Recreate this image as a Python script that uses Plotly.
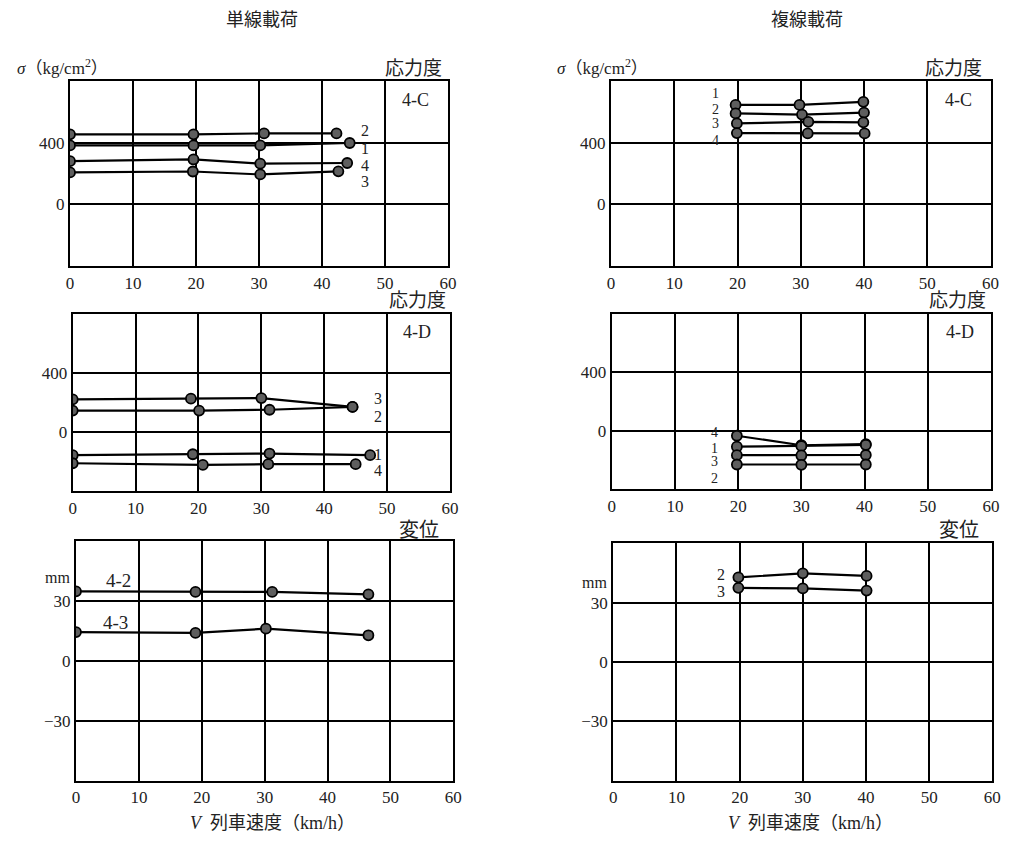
import plotly.graph_objects as go

PAGE_OFF = 8  # default body margin of the html page
W, H = 1012 - 2 * PAGE_OFF, 841 - 2 * PAGE_OFF
FONT = "Liberation Serif, Noto Sans CJK JP, serif"

# ---------------- data ----------------
x_ticks = [0, 10, 20, 30, 40, 50, 60]
stress_ticks = [0, 400]
disp_ticks = [-30, 0, 30]
disp_ticktext = ["\u221230", "0", "30"]

# single-line loading, stress 4-C
s4c_x1 = [0, 19.6, 30.2, 44.4]
s4c_y1 = [382, 382, 382, 398]
s4c_x2 = [0, 19.6, 30.8, 42.3]
s4c_y2 = [454, 454, 460, 460]
s4c_x3 = [0, 19.5, 30.2, 42.6]
s4c_y3 = [207, 213, 194, 214]
s4c_x4 = [0, 19.6, 30.2, 44.0]
s4c_y4 = [280, 291, 264, 268]

# double-line loading, stress 4-C
d4c_x1 = [19.7, 29.8, 39.9]
d4c_y1 = [645, 645, 665]
d4c_x2 = [19.7, 30.2, 40.0]
d4c_y2 = [590, 582, 595]
d4c_x3 = [19.9, 31.2, 39.9]
d4c_y3 = [525, 535, 532]
d4c_x4 = [19.9, 31.1, 40.1]
d4c_y4 = [462, 460, 460]

# single-line loading, stress 4-D
s4d_x1 = [0, 19.1, 31.3, 47.3]
s4d_y1 = [-157, -151, -146, -157]
s4d_x2 = [0, 20.1, 31.3, 44.5]
s4d_y2 = [145, 145, 151, 170]
s4d_x3 = [0, 18.8, 30.0, 44.5]
s4d_y3 = [221, 226, 230, 170]
s4d_x4 = [0, 20.7, 31.1, 45.0]
s4d_y4 = [-212, -223, -218, -218]

# double-line loading, stress 4-D
d4d_x = [19.8, 30.0, 40.2]
d4d_y1 = [-110, -105, -98]
d4d_y2 = [-232, -234, -232]
d4d_y3 = [-168, -170, -167]
d4d_y4 = [-35, -100, -92]

# single-line loading, displacement
sdp_x42 = [0, 19.0, 31.2, 46.5]
sdp_y42 = [34.8, 34.5, 34.5, 33.3]
sdp_x43 = [0, 19.0, 30.2, 46.5]
sdp_y43 = [14.4, 14.0, 16.1, 12.8]

# double-line loading, displacement
ddp_x = [19.8, 30.0, 40.1]
ddp_y2 = [42.8, 44.8, 43.5]
ddp_y3 = [37.5, 37.2, 36.1]

# ---------------- layout helpers ----------------
def fx(px):
    return (px - PAGE_OFF) / W

def fy(py):
    return 1 - (py - PAGE_OFF) / H

panels = {
    # name: (left, right, top, bottom) in screen px
    "tl": (70, 448, 81, 266),
    "tr": (611, 990.5, 81, 266),
    "ml": (72.7, 450, 314, 491),
    "mr": (611.7, 991, 314, 489),
    "bl": (76, 453.3, 541, 780.7),
    "br": (613.3, 992.3, 543.3, 780.7),
}
order = ["tl", "tr", "ml", "mr", "bl", "br"]
axis_ids = {name: i + 1 for i, name in enumerate(order)}

fig = go.Figure()

def add_series(panel, xs, ys):
    i = axis_ids[panel]
    fig.add_trace(go.Scatter(
        x=xs, y=ys, mode="lines+markers",
        xaxis="x" if i == 1 else f"x{i}",
        yaxis="y" if i == 1 else f"y{i}",
        line=dict(color="black", width=2.2),
        marker=dict(size=10, color="#5e5e5e", line=dict(color="black", width=1.8)),
        showlegend=False, hoverinfo="skip",
    ))

add_series("tl", s4c_x2, s4c_y2)
add_series("tl", s4c_x1, s4c_y1)
add_series("tl", s4c_x4, s4c_y4)
add_series("tl", s4c_x3, s4c_y3)

add_series("tr", d4c_x1, d4c_y1)
add_series("tr", d4c_x2, d4c_y2)
add_series("tr", d4c_x3, d4c_y3)
add_series("tr", d4c_x4, d4c_y4)

add_series("ml", s4d_x3, s4d_y3)
add_series("ml", s4d_x2, s4d_y2)
add_series("ml", s4d_x1, s4d_y1)
add_series("ml", s4d_x4, s4d_y4)

add_series("mr", d4d_x, d4d_y4)
add_series("mr", d4d_x, d4d_y1)
add_series("mr", d4d_x, d4d_y3)
add_series("mr", d4d_x, d4d_y2)

add_series("bl", sdp_x42, sdp_y42)
add_series("bl", sdp_x43, sdp_y43)

add_series("br", ddp_x, ddp_y2)
add_series("br", ddp_x, ddp_y3)

tickfont = dict(family=FONT, size=17, color="#222")
layout = dict(
    width=W, height=H,
    margin=dict(l=0, r=0, t=0, b=0, autoexpand=False),
    paper_bgcolor="white", plot_bgcolor="white",
    showlegend=False,
    font=dict(family=FONT, size=16, color="#222"),
)

for name in order:
    i = axis_ids[name]
    l, r, t, b = panels[name]
    xk = "xaxis" if i == 1 else f"xaxis{i}"
    yk = "yaxis" if i == 1 else f"yaxis{i}"
    ya = "y" if i == 1 else f"y{i}"
    xa = "x" if i == 1 else f"x{i}"
    layout[xk] = dict(
        domain=[fx(l), fx(r)], anchor=ya, range=[0, 60],
        tickvals=x_ticks, ticks="", showgrid=True, gridcolor="black", gridwidth=1.5,
        showline=True, mirror=True, linecolor="black", linewidth=2.2,
        zeroline=False, tickfont=tickfont, fixedrange=True,
    )
    if name in ("bl", "br"):
        yax = dict(range=[-60, 60], tickvals=disp_ticks, ticktext=disp_ticktext)
    else:
        yax = dict(range=[-400, 800], tickvals=stress_ticks)
    yax.update(
        domain=[fy(b), fy(t)], anchor=xa, ticks="", showgrid=True,
        gridcolor="black", gridwidth=1.5,
        showline=True, mirror=True, linecolor="black", linewidth=2.2,
        zeroline=False, tickfont=tickfont, fixedrange=True,
    )
    layout[yk] = yax

fig.update_layout(**layout)

ann = []

def paper_text(text, px, py, size=16, xanchor="center", yanchor="middle"):
    ann.append(dict(text=text, x=fx(px), y=fy(py), xref="paper", yref="paper",
                    showarrow=False, xanchor=xanchor, yanchor=yanchor,
                    font=dict(family=FONT, size=size, color="#222")))

def data_text(panel, text, x, y, size=16, xanchor="center"):
    i = axis_ids[panel]
    ann.append(dict(text=text, x=x, y=y,
                    xref="x" if i == 1 else f"x{i}",
                    yref="y" if i == 1 else f"y{i}",
                    showarrow=False, xanchor=xanchor, yanchor="middle",
                    font=dict(family=FONT, size=size, color="#222")))

# column titles
paper_text("単線載荷", 262, 8, size=18, yanchor="top")
paper_text("複線載荷", 807, 8, size=18, yanchor="top")

# y-axis unit labels
paper_text("<i>σ</i>（kg/cm<sup>2</sup>）", 15, 67, size=17, xanchor="left")
paper_text("<i>σ</i>（kg/cm<sup>2</sup>）", 555, 67, size=17, xanchor="left")

# quantity labels above the panels
paper_text("応力度", 444, 68, size=19, xanchor="right")
paper_text("応力度", 984, 68, size=19, xanchor="right")
paper_text("応力度", 448, 300, size=19, xanchor="right")
paper_text("応力度", 988, 300, size=19, xanchor="right")
paper_text("変位", 441, 530, size=20, xanchor="right")
paper_text("変位", 981, 530, size=20, xanchor="right")

# gauge names
paper_text("4-C", 415, 100, size=18)
paper_text("4-C", 958, 100, size=18)
paper_text("4-D", 417, 332, size=18)
paper_text("4-D", 960, 332, size=18)

# mm unit
paper_text("mm", 72, 577, size=16, xanchor="right")
paper_text("mm", 609, 582, size=16, xanchor="right")

# x-axis titles
paper_text("<i>V</i>  列車速度（km/h）", 272, 823, size=18)
paper_text("<i>V</i>  列車速度（km/h）", 810, 823, size=18)

# series labels
for txt, yv in [("2", 478), ("1", 365), ("4", 250), ("3", 145)]:
    data_text("tl", txt, 46.8, yv, size=16)
for txt, yv in [("1", 721), ("2", 614), ("3", 525), ("4", 417)]:
    data_text("tr", txt, 16.5, yv, size=14)
for txt, yv in [("3", 226), ("2", 105), ("1", -151), ("4", -260)]:
    data_text("ml", txt, 48.6, yv, size=16)
for txt, yv in [("4", -12), ("1", -122), ("3", -214), ("2", -327)]:
    data_text("mr", txt, 16.3, yv, size=14)
data_text("bl", "4-2", 4.4, 40.3, size=19, xanchor="left")
data_text("bl", "4-3", 3.9, 19.0, size=19, xanchor="left")
data_text("br", "2", 17.0, 44.2)
data_text("br", "3", 17.0, 35.5)

fig.update_layout(annotations=ann)
fig.write_html("out.html")
